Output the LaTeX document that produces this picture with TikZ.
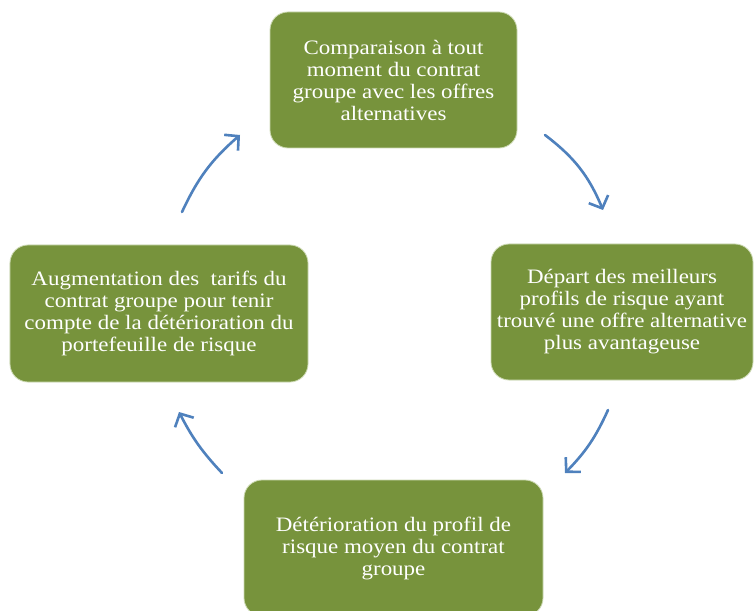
\documentclass[tikz,border=0pt]{standalone}
\usepackage{fontspec}
\setmainfont[FakeStretch=1.12]{Liberation Serif}
\usetikzlibrary{arrows.meta}
\definecolor{boxgreen}{RGB}{119,147,60}
\definecolor{boxedge}{RGB}{205,218,180}
\definecolor{arrowblue}{RGB}{79,129,189}
\tikzset{
  stepbox/.style={draw=boxedge, line width=0.8bp, fill=boxgreen, rounded corners=18bp,
    text=white, align=center, inner sep=0pt,
    font=\fontsize{20.5bp}{22bp}\selectfont},
  cyclearrow/.style={draw=arrowblue, line width=2.6bp, line cap=round,
    -{Straight Barb[length=10bp,width=21bp,line width=2.6bp]}}
}
\begin{document}
\begin{tikzpicture}[x=1bp,y=-1bp]
\useasboundingbox (0,0) rectangle (754,611);
\fill[white] (0,0) rectangle (754,611);
\clip (0,0) rectangle (754,611);
% boxes
\node[stepbox, minimum width=247bp, minimum height=136bp] (top) at (393.5,80)
  {Comparaison à tout\\moment du contrat\\groupe avec les offres\\alternatives};
\node[stepbox, minimum width=262bp, minimum height=136bp] (right) at (622,312)
  {Départ des meilleurs\\profils de risque ayant\\trouvé une offre alternative\\plus avantageuse};
\node[stepbox, minimum width=298bp, minimum height=137bp] (left) at (159,313.5)
  {Augmentation des\ \ tarifs du\\contrat groupe pour tenir\\compte de la détérioration du\\portefeuille de risque};
\node[stepbox, minimum width=299bp, minimum height=136bp] (bottom) at (393.5,548)
  {Détérioration du profil de\\risque moyen du contrat\\groupe};
% arrow anchor points
\coordinate (a1s) at (545,135); \coordinate (a1e) at (603,210);
\coordinate (a2s) at (608,410); \coordinate (a2e) at (565,473);
\coordinate (a3s) at (222,473); \coordinate (a3e) at (179,412);
\coordinate (a4s) at (182,212); \coordinate (a4e) at (240,135);
\draw[cyclearrow] (a1s) to[bend left=15] (a1e);
\draw[cyclearrow] (a2s) to[bend left=10] (a2e);
\draw[cyclearrow] (a3s) to[bend left=8] (a3e);
\draw[cyclearrow] (a4s) to[bend left=12] (a4e);
\end{tikzpicture}
\end{document}
